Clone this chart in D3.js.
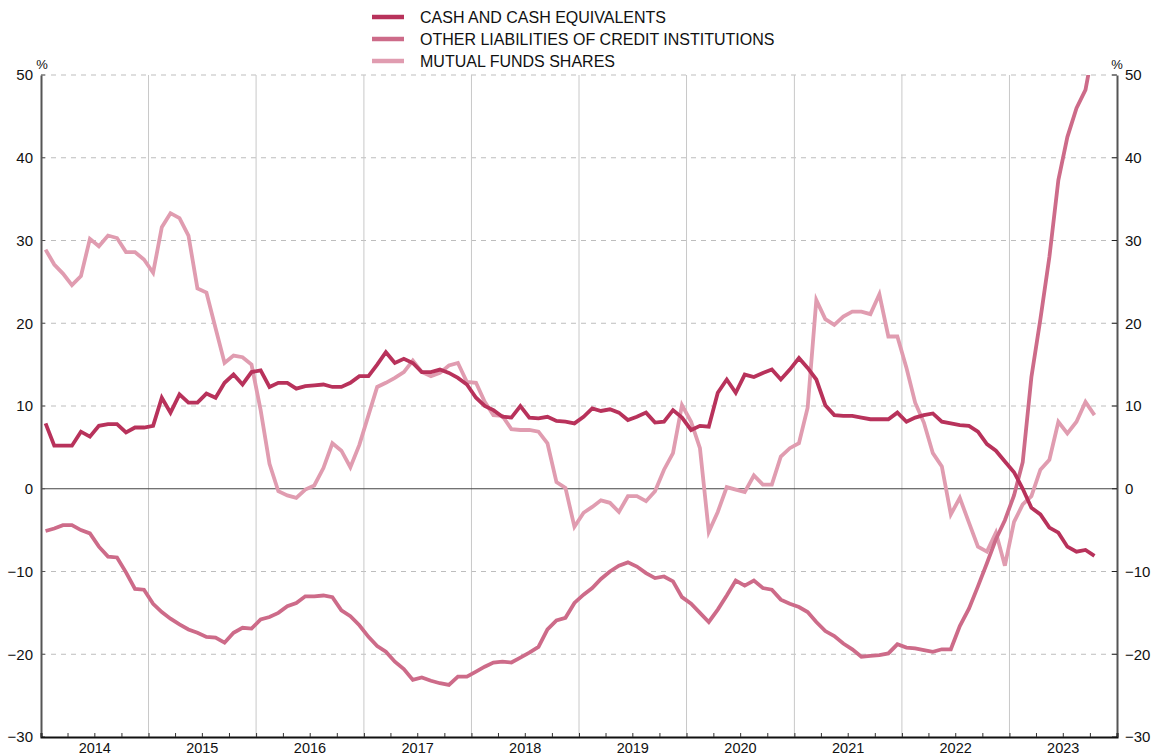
<!DOCTYPE html>
<html>
<head>
<meta charset="utf-8">
<script src="https://cdn.jsdelivr.net/npm/d3@7"></script>
<style>
  body { margin: 0; background: #fff; }
  svg { font-family: "Liberation Sans", Arial, sans-serif; }
</style>
</head>
<body>
<svg width="1152" height="755"></svg>
<script>
// monthly series, Jan 2014 .. Oct 2023 (y-o-y growth, %)
const startMonth = "2014-01";
const years = ["2014", "2015", "2016", "2017", "2018", "2019", "2020", "2021", "2022", "2023"];
const yTicks = [-30, -20, -10, 0, 10, 20, 30, 40, 50];

const seriesNames = ["CASH AND CASH EQUIVALENTS", "OTHER LIABILITIES OF CREDIT INSTITUTIONS", "MUTUAL FUNDS SHARES"];
const seriesColors = ["#b8325b", "#cd6b89", "#e09cb0"];

const cash = [
  7.9, 5.2, 5.2, 5.2, 6.9, 6.3, 7.6, 7.8, 7.8, 6.8, 7.4, 7.4,
  7.6, 11.0, 9.2, 11.4, 10.4, 10.4, 11.5, 11.0, 12.8, 13.8, 12.6, 14.1,
  14.3, 12.3, 12.8, 12.8, 12.1, 12.4, 12.5, 12.6, 12.3, 12.3, 12.8, 13.6,
  13.6, 15.0, 16.5, 15.2, 15.7, 15.2, 14.1, 14.1, 14.4, 14.0, 13.4, 12.6,
  11.0, 10.0, 9.5, 8.7, 8.6, 10.0, 8.6, 8.5, 8.7, 8.2, 8.1, 7.9,
  8.7, 9.7, 9.4, 9.6, 9.2, 8.3, 8.7, 9.2, 8.0, 8.1, 9.5, 8.6,
  7.1, 7.6, 7.5, 11.6, 13.2, 11.6, 13.8, 13.5, 14.0, 14.4, 13.2, 14.4,
  15.8, 14.6, 13.2, 10.1, 8.9, 8.8, 8.8, 8.6, 8.4, 8.4, 8.4, 9.2,
  8.1, 8.6, 8.9, 9.1, 8.1, 7.9, 7.7, 7.6, 6.9, 5.4, 4.6, 3.3,
  2.0, 0.0, -2.3, -3.1, -4.7, -5.3, -7.0, -7.6, -7.4, -8.1
];

const otherLiab = [
  -5.1, -4.8, -4.4, -4.4, -5.0, -5.4, -7.0, -8.2, -8.3, -10.1, -12.1, -12.2,
  -13.9, -14.9, -15.7, -16.4, -17.0, -17.4, -17.9, -18.0, -18.6, -17.4, -16.8, -16.9,
  -15.8, -15.5, -15.0, -14.2, -13.8, -13.0, -13.0, -12.9, -13.1, -14.7, -15.4, -16.5,
  -17.9, -19.0, -19.7, -20.9, -21.8, -23.1, -22.8, -23.2, -23.5, -23.7, -22.7, -22.7,
  -22.1, -21.5, -21.0, -20.9, -21.0, -20.4, -19.8, -19.1, -17.0, -15.9, -15.6, -13.8,
  -12.8, -12.0, -10.9, -10.0, -9.3, -8.9, -9.4, -10.2, -10.8, -10.6, -11.2, -13.1,
  -13.9, -15.0, -16.1, -14.6, -12.9, -11.1, -11.7, -11.1, -12.0, -12.2, -13.4, -13.9,
  -14.3, -14.9, -16.1, -17.2, -17.8, -18.7, -19.4, -20.3, -20.2, -20.1, -19.9, -18.8,
  -19.2, -19.3, -19.5, -19.7, -19.4, -19.4, -16.6, -14.5, -11.8, -9.0, -6.1, -3.8,
  -0.8, 3.2, 13.5, 20.5, 28.0, 37.3, 42.5, 46.0, 48.2, 54.0
];

const mutualFunds = [
  28.9, 27.1, 26.0, 24.6, 25.7, 30.2, 29.3, 30.6, 30.3, 28.6, 28.6, 27.7,
  26.1, 31.6, 33.3, 32.7, 30.6, 24.2, 23.7, 19.4, 15.2, 16.1, 15.9, 15.0,
  9.5, 3.0, -0.3, -0.8, -1.1, -0.1, 0.4, 2.5, 5.5, 4.6, 2.6, 5.3,
  8.9, 12.3, 12.8, 13.4, 14.1, 15.5, 14.1, 13.6, 14.0, 14.9, 15.2, 12.9,
  12.8, 10.5, 8.9, 8.8, 7.2, 7.1, 7.1, 6.9, 5.5, 0.8, 0.1, -4.6,
  -2.9, -2.2, -1.4, -1.7, -2.8, -0.9, -0.9, -1.5, -0.3, 2.3, 4.3, 10.1,
  8.1, 4.9, -5.2, -2.8, 0.2, -0.1, -0.4, 1.6, 0.5, 0.5, 3.9, 4.9,
  5.5, 9.8, 22.8, 20.5, 19.8, 20.8, 21.4, 21.4, 21.1, 23.5, 18.4, 18.4,
  14.6, 10.4, 8.0, 4.3, 2.7, -3.1, -1.1, -4.1, -7.0, -7.6, -5.3, -9.3,
  -4.0, -1.9, -0.9, 2.3, 3.5, 8.1, 6.7, 8.1, 10.5, 8.9
];

const allSeries = [cash, otherLiab, mutualFunds];

const svg = d3.select("svg");
const margin = {top: 75, right: 35, bottom: 18, left: 41};
const W = 1152, H = 755;
const plotL = margin.left, plotR = W - margin.right;
const plotT = margin.top, plotB = H - margin.bottom;

const t0 = d3.timeParse("%Y-%m")(startMonth);
const x = d3.scaleTime()
  .domain([new Date(+years[0], 0, 1), new Date(+years[years.length - 1] + 1, 0, 1)])
  .range([plotL, plotR]);
const y = d3.scaleLinear().domain([-30, 50]).range([plotB, plotT]);

// month midpoint
const xm = i => {
  const a = d3.timeMonth.offset(t0, i), b = d3.timeMonth.offset(t0, i + 1);
  return (x(a) + x(b)) / 2;
};

// horizontal dashed grid
svg.append("g").selectAll("line")
  .data(yTicks.filter(v => v !== 0 && v !== -30))
  .join("line")
  .attr("x1", plotL).attr("x2", plotR)
  .attr("y1", d => y(d)).attr("y2", d => y(d))
  .attr("stroke", "#bdbdbd").attr("stroke-width", 1)
  .attr("stroke-dasharray", "5,5");

// year separators
svg.append("g").selectAll("line")
  .data(years.slice(1))
  .join("line")
  .attr("x1", d => x(new Date(+d, 0, 1))).attr("x2", d => x(new Date(+d, 0, 1)))
  .attr("y1", plotT).attr("y2", plotB)
  .attr("stroke", "#c8c8c8").attr("stroke-width", 1);

// zero line
svg.append("line")
  .attr("x1", plotL).attr("x2", plotR)
  .attr("y1", y(0)).attr("y2", y(0))
  .attr("stroke", "#444").attr("stroke-width", 1.2);

// clip for lines
svg.append("clipPath").attr("id", "plot")
  .append("rect").attr("x", plotL).attr("y", plotT).attr("width", plotR - plotL).attr("height", plotB - plotT);

const line = d3.line().x((d, i) => xm(i)).y(d => y(d));

svg.append("g").attr("clip-path", "url(#plot)")
  .selectAll("path")
  .data(allSeries.map((s, k) => ({s, k})).reverse())
  .join("path")
  .attr("d", d => line(d.s))
  .attr("fill", "none")
  .attr("stroke", d => seriesColors[d.k])
  .attr("stroke-width", 3.8)
  .attr("stroke-linejoin", "miter");

// left / right axes
const yl = svg.append("g").attr("transform", `translate(${plotL},0)`)
  .call(d3.axisLeft(y).tickValues(yTicks).tickSize(0).tickPadding(8));
const yr = svg.append("g").attr("transform", `translate(${plotR},0)`)
  .call(d3.axisRight(y).tickValues(yTicks).tickSize(0).tickPadding(8));
[yl, yr].forEach(g => {
  g.select(".domain").attr("stroke", "#555").attr("stroke-width", 2);
  g.selectAll("text").attr("font-size", 15).attr("fill", "#111")
    .attr("font-family", "Liberation Sans, Arial, sans-serif");
});
// inward tick marks
svg.append("g").selectAll("line").data(yTicks).join("line")
  .attr("x1", plotL).attr("x2", plotL + 4).attr("y1", d => y(d)).attr("y2", d => y(d))
  .attr("stroke", "#555");
svg.append("g").selectAll("line").data(yTicks).join("line")
  .attr("x1", plotR - 5).attr("x2", plotR).attr("y1", d => y(d)).attr("y2", d => y(d))
  .attr("stroke", "#222");

// % units
svg.append("text").attr("x", plotL + 1).attr("y", plotT - 6).attr("text-anchor", "middle")
  .attr("font-size", 13).attr("fill", "#111").text("%");
svg.append("text").attr("x", plotR).attr("y", plotT - 6).attr("text-anchor", "middle")
  .attr("font-size", 13).attr("fill", "#111").text("%");

// bottom axis with quarterly minor ticks
const xb = svg.append("g").attr("transform", `translate(0,${plotB})`)
  .call(d3.axisBottom(x).ticks(d3.timeMonth.every(3)).tickSize(-4).tickFormat(""));
xb.select(".domain").attr("stroke", "#111").attr("stroke-width", 2);
xb.selectAll(".tick line").attr("stroke", "#333");

svg.append("g").selectAll("text").data(years).join("text")
  .attr("x", d => (x(new Date(+d, 0, 1)) + x(new Date(+d + 1, 0, 1))) / 2)
  .attr("y", plotB + 16)
  .attr("text-anchor", "middle")
  .attr("font-size", 14.5).attr("fill", "#111")
  .text(d => d);

// legend
const lg = svg.append("g").attr("transform", "translate(372,17)");
seriesNames.forEach((name, k) => {
  lg.append("line").attr("x1", 0).attr("x2", 32).attr("y1", k * 22).attr("y2", k * 22)
    .attr("stroke", seriesColors[k]).attr("stroke-width", 4.5);
  lg.append("text").attr("x", 48).attr("y", k * 22 + 5.5)
    .attr("font-size", 16).attr("fill", "#111").text(name);
});
</script>
</body>
</html>
